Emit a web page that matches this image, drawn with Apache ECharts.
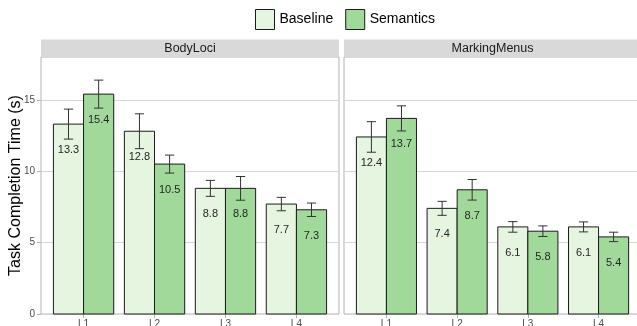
<!DOCTYPE html>
<html>
<head>
<meta charset="utf-8">
<script src="https://cdn.jsdelivr.net/npm/echarts@6/dist/echarts.min.js"></script>
<style>
  html, body { margin: 0; padding: 0; background: #ffffff; }
  #chart { width: 637px; height: 326px; }
</style>
</head>
<body>
<div id="chart"></div>
<script>
// Mean task completion time (s) per level, with standard-error half widths
const categories = ['L1', 'L2', 'L3', 'L4'];
const panels = ['BodyLoci', 'MarkingMenus'];
const groups = ['Baseline', 'Semantics'];

const bodyBaseline = [13.3, 12.8, 8.8, 7.7];
const bodySemantics = [15.4, 10.5, 8.8, 7.3];
const menusBaseline = [12.4, 7.4, 6.1, 6.1];
const menusSemantics = [13.7, 8.7, 5.8, 5.4];

const bodyBaselineErr = [1.05, 1.22, 0.56, 0.47];
const bodySemanticsErr = [0.98, 0.63, 0.83, 0.47];
const menusBaselineErr = [1.07, 0.49, 0.37, 0.35];
const menusSemanticsErr = [0.88, 0.72, 0.37, 0.33];

const yTicks = [0, 5, 10, 15];

const FONT = '"Liberation Sans", Arial, Helvetica, sans-serif';
const COLORS = ['#e5f5e0', '#a1d99b'];
const BAR_W = 0.425;   // width of each dodged bar, in category units
const CAP = 0.065;     // half width of the error-bar caps
const LABEL_DROP = 26; // value label sits this many px below the bar top

const chart = echarts.init(document.getElementById('chart'), null, { renderer: 'canvas' });

// two facets; the second one runs a few px past the right edge of the canvas
const grids = [
  { left: 41, top: 57, width: 298, height: 257 },
  { left: 344, top: 57, width: 297, height: 257 }
];

function makeSeries(panelIdx, groupIdx, values, errs) {
  const fill = COLORS[groupIdx];
  return {
    type: 'custom',
    name: groups[groupIdx],
    xAxisIndex: panelIdx,
    yAxisIndex: panelIdx,
    itemStyle: { color: fill },
    encode: { x: 0, y: 1 },
    data: values.map((v, i) => [i + 1, v, errs[i]]),
    renderItem(params, api) {
      const x = api.value(0);
      const v = api.value(1);
      const e = api.value(2);
      const x0 = groupIdx === 0 ? x - BAR_W : x;
      const x1 = x0 + BAR_W;
      const cx = (x0 + x1) / 2;
      const tl = api.coord([x0, v]);
      const br = api.coord([x1, 0]);
      const hi = api.coord([cx, v + e]);
      const lo = api.coord([cx, v - e]);
      const cl = api.coord([cx - CAP, 0])[0];
      const cr = api.coord([cx + CAP, 0])[0];
      const errStyle = { stroke: '#333333', lineWidth: 1 };
      return {
        type: 'group',
        children: [
          {
            type: 'rect',
            shape: { x: tl[0], y: tl[1], width: br[0] - tl[0], height: br[1] - tl[1] },
            style: { fill: fill, stroke: '#1a1a1a', lineWidth: 1 }
          },
          {
            type: 'text',
            x: (tl[0] + br[0]) / 2,
            y: tl[1] + LABEL_DROP,
            style: {
              text: v.toFixed(1), align: 'center', verticalAlign: 'middle',
              fontSize: 11, fontFamily: FONT, fill: '#262626'
            }
          },
          { type: 'line', shape: { x1: hi[0], y1: hi[1], x2: lo[0], y2: lo[1] }, style: errStyle },
          { type: 'line', shape: { x1: cl, y1: hi[1], x2: cr, y2: hi[1] }, style: errStyle },
          { type: 'line', shape: { x1: cl, y1: lo[1], x2: cr, y2: lo[1] }, style: errStyle }
        ]
      };
    }
  };
}

function xAxisFor(i) {
  return {
    type: 'value',
    gridIndex: i,
    min: 0.4,
    max: 4.6,
    axisLine: { show: false },
    splitLine: { show: false },
    axisTick: { show: true, length: 4, customValues: [1, 2, 3, 4], lineStyle: { color: '#b3b3b3' } },
    axisLabel: {
      customValues: [1, 2, 3, 4],
      formatter: (val) => categories[Math.round(val) - 1],
      margin: 5, fontSize: 10, color: '#4d4d4d', fontFamily: FONT
    }
  };
}

function yAxisFor(i) {
  const first = i === 0;
  return {
    type: 'value',
    gridIndex: i,
    min: 0,
    max: 18,
    interval: 5,
    name: first ? 'Task Completion Time (s)' : '',
    nameLocation: 'middle',
    nameGap: 17,
    nameMoveOverlap: false,
    nameTextStyle: { fontSize: 16, color: '#000000', fontFamily: FONT },
    axisLine: { show: false },
    axisTick: { show: first, length: 4, customValues: yTicks, lineStyle: { color: '#b3b3b3' } },
    axisLabel: {
      show: first, customValues: yTicks, margin: 6,
      fontSize: 10, color: '#4d4d4d', fontFamily: FONT
    },
    splitLine: { show: true, lineStyle: { color: '#d6d6d6', width: 1 } }
  };
}

const option = {
  backgroundColor: '#ffffff',
  animation: false,
  textStyle: { fontFamily: FONT },
  legend: {
    data: groups,
    left: 255,
    top: 9,
    padding: 0,
    itemWidth: 19,
    itemHeight: 20,
    itemGap: 12,
    icon: 'rect',
    itemStyle: { borderColor: '#1a1a1a', borderWidth: 1 },
    textStyle: { fontSize: 14, color: '#000000', fontFamily: FONT }
  },
  grid: grids.map(g => ({
    left: g.left, top: g.top, width: g.width, height: g.height,
    outerBoundsMode: 'none',
    show: true, borderColor: '#b3b3b3', borderWidth: 1, backgroundColor: 'transparent'
  })),
  xAxis: [xAxisFor(0), xAxisFor(1)],
  yAxis: [yAxisFor(0), yAxisFor(1)],
  graphic: panels.map((p, i) => ({
    type: 'group',
    children: [
      {
        type: 'rect',
        shape: { x: grids[i].left, y: 39.5, width: grids[i].width, height: 17.5 },
        style: { fill: '#d9d9d9' }
      },
      {
        type: 'text',
        x: grids[i].left + grids[i].width / 2,
        y: 48.5,
        style: {
          text: p, align: 'center', verticalAlign: 'middle',
          fontSize: 12.5, fill: '#1a1a1a', fontFamily: FONT
        }
      }
    ]
  })),
  series: [
    makeSeries(0, 0, bodyBaseline, bodyBaselineErr),
    makeSeries(0, 1, bodySemantics, bodySemanticsErr),
    makeSeries(1, 0, menusBaseline, menusBaselineErr),
    makeSeries(1, 1, menusSemantics, menusSemanticsErr)
  ]
};

chart.setOption(option);
</script>
</body>
</html>
